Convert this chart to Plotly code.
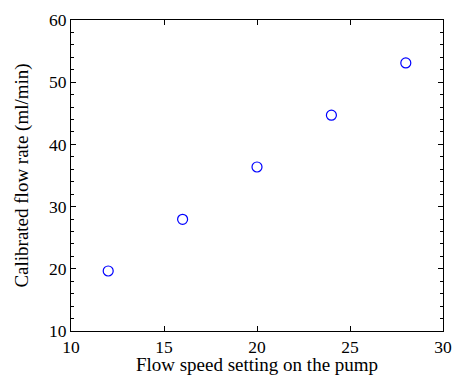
import plotly.graph_objects as go

flow_setting = [12, 16, 20, 24, 28]
flow_rate = [19.65, 27.96, 36.37, 44.7, 53.1]
x_ticks = [10, 15, 20, 25, 30]
y_ticks = [10, 20, 30, 40, 50, 60]

fig = go.Figure()
fig.add_trace(go.Scatter(
    x=flow_setting, y=flow_rate, mode="markers",
    marker=dict(symbol="circle-open", size=10, color="#0000ff", line=dict(width=1.2, color="#0000ff")),
    showlegend=False,
))

tick_font = dict(family="Liberation Serif", size=17.5, color="black")
title_font = dict(family="Liberation Serif", size=19, color="black")
fig.update_layout(
    width=455, height=375,
    margin=dict(l=71, r=12, t=20, b=44),
    paper_bgcolor="white", plot_bgcolor="white",
    font=tick_font,
)
fig.update_xaxes(
    range=[10, 30], tickvals=x_ticks, ticks="inside", ticklen=5, tickcolor="black",
    showline=True, linecolor="black", linewidth=1, mirror="ticks", showgrid=False, zeroline=False,
    automargin=False,
    title=dict(text="Flow speed setting on the pump", standoff=2, font=title_font), tickfont=tick_font,
)
fig.update_yaxes(
    range=[10, 60], tickvals=y_ticks, ticks="inside", ticklen=5, tickcolor="black",
    showline=True, linecolor="black", linewidth=1, mirror="ticks", showgrid=False, zeroline=False,
    automargin=False,
    minor=dict(dtick=2, ticks="inside", ticklen=3, tickcolor="black", showgrid=False),
    title=dict(text="Calibrated flow rate (ml/min)", standoff=15, font=title_font), tickfont=tick_font,
)
fig.write_html("out.html", config={"displayModeBar": False},
               post_script="document.body.style.margin='0';")
